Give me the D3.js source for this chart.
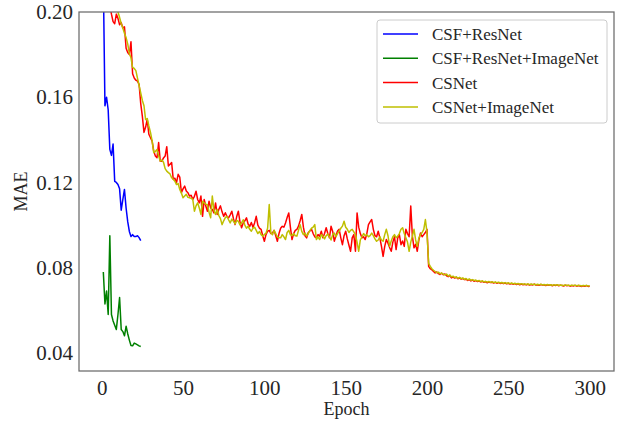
<!DOCTYPE html>
<html><head><meta charset="utf-8">
<script src="https://cdn.jsdelivr.net/npm/d3@7"></script>
<style>body{margin:0;background:#fff}svg{display:block}text{font-family:"Liberation Serif","Times New Roman",serif;fill:#262626}</style>
</head><body><svg id="c" width="631" height="422"></svg>
<script>
const seriesNames = ["CSF+ResNet","CSF+ResNet+ImageNet","CSNet","CSNet+ImageNet"];
const seriesColors = ["#0000ff","#008000","#ff0000","#bfbf00"];
const xTicks = [0,50,100,150,200,250,300];
const yTicks = [0.04,0.08,0.12,0.16,0.20];
const csfResNet = [0.215,0.156,0.160,0.154,0.1355,0.1327,0.138,0.1205,0.120,0.119,0.117,0.107,0.112,0.1167,0.108,0.1016,0.097,0.0946,0.0955,0.0946,0.0946,0.095,0.0941,0.0927];
const csfResNetImageNet = [0.078,0.063,0.069,0.058,0.095,0.058,0.055,0.053,0.051,0.058,0.066,0.051,0.050,0.048,0.0525,0.049,0.046,0.0435,0.0433,0.0446,0.0442,0.0438,0.0433,0.0430];
const csNet = [
0.262,0.245,0.228,0.214,0.203,0.199,0.1955,0.1945,0.199,0.197,
0.194,0.195,0.1925,0.193,0.183,0.181,0.180,0.186,0.171,0.169,
0.168,0.1675,0.166,0.157,0.151,0.1435,0.146,0.1496,0.1426,0.141,
0.1394,0.1347,0.1324,0.1316,0.1387,0.1300,0.1300,0.1315,0.1324,0.1368,
0.1277,0.1285,0.1293,0.1214,0.1220,0.1199,0.1238,0.1225,0.1152,0.1170,
0.1183,0.1160,0.1152,0.1136,0.1140,0.1120,0.1135,0.1159,0.1120,0.1104,
0.1136,0.1041,0.1120,0.1089,0.1065,0.1112,0.1080,0.1073,0.1057,0.1104,
0.1050,0.1073,0.1090,0.1062,0.1041,0.1058,0.1040,0.1034,0.1048,0.1065,
0.1030,0.1002,0.1040,0.1065,0.1015,0.0987,0.1010,0.1020,0.1034,0.1005,
0.0994,0.1012,0.0990,0.1010,0.1041,0.1000,0.0985,0.0980,0.0950,0.0924,
0.0955,0.0971,0.0975,0.0960,0.0963,0.0975,0.0950,0.0924,0.0960,0.0985,
0.0994,0.0990,0.1010,0.1035,0.1057,0.0990,0.0932,0.0960,0.0975,0.0980,
0.0995,0.1020,0.1050,0.0990,0.0950,0.0940,0.0965,0.0972,0.0980,0.0960,
0.0945,0.0940,0.0955,0.0948,0.0971,0.0940,0.0960,0.0987,0.0960,0.0940,
0.0994,0.0970,0.0924,0.0950,0.0972,0.0980,0.0940,0.0908,0.0950,0.0971,
0.0935,0.0905,0.0877,0.0940,0.0955,0.0877,0.1057,0.0990,0.0960,0.0940,
0.0945,0.0932,0.0960,0.1002,0.1015,0.1026,0.0980,0.0950,0.0945,0.0971,
0.0940,0.0900,0.0853,0.0900,0.0932,0.0915,0.0895,0.0877,0.0920,0.0945,
0.0885,0.0940,0.0955,0.0908,0.0925,0.0900,0.0980,0.0960,0.0945,0.1089,
0.0948,0.0893,0.0910,0.0877,0.0930,0.0963,0.0945,0.0955,0.0965,0.0980,
0.0806,0.0795,0.0790,0.0782,0.0775,0.0780,0.0772,0.0768,0.0774,0.0767,
0.0770,0.0762,0.0758,0.0764,0.0752,0.0757,0.0751,0.0755,0.0748,0.0752,
0.0746,0.0749,0.0744,0.0746,0.0740,0.0744,0.0738,0.0742,0.0736,0.0739,
0.0735,0.0737,0.0733,0.0736,0.0731,0.0734,0.0729,0.0733,0.0730,0.0732,
0.0728,0.0731,0.0727,0.0730,0.0726,0.0729,0.0725,0.0728,0.0724,0.0727,
0.0723,0.0726,0.0722,0.0725,0.0721,0.0724,0.0720,0.0723,0.0720,0.0722,
0.0719,0.0722,0.0718,0.0721,0.0719,0.0723,0.0718,0.0720,0.0717,0.0721,
0.0718,0.0720,0.0716,0.0719,0.0717,0.0720,0.0715,0.0718,0.0716,0.0719,
0.0715,0.0718,0.0716,0.0714,0.0718,0.0715,0.0717,0.0713,0.0716,0.0714,
0.0717,0.0713,0.0716,0.0714,0.0712,0.0715,0.0713,0.0716,0.0712,0.0713];
const csNetImageNet = [
0.255,0.240,0.228,0.220,0.214,0.209,0.206,0.204,0.202,0.200,
0.1975,0.1945,0.1925,0.190,0.188,0.185,0.1805,0.1785,0.174,0.1735,
0.1725,0.169,0.1655,0.162,0.1585,0.156,0.1495,0.150,0.1465,0.1435,
0.1395,0.134,0.1345,0.1355,0.1325,0.130,0.1305,0.1295,0.1265,0.1253,
0.1246,0.1240,0.1222,0.1215,0.1206,0.1190,0.1195,0.1167,0.1150,0.1128,
0.1136,0.1144,0.1130,0.1128,0.1125,0.1120,0.1065,0.1090,0.1104,0.1080,
0.1050,0.1112,0.1104,0.1098,0.1096,0.1060,0.1034,0.1136,0.1070,0.1050,
0.1073,0.1045,0.1030,0.1002,0.1020,0.1035,0.1041,0.1025,0.1010,0.1028,
0.1018,0.1005,0.1022,0.1018,0.1000,0.1010,0.1025,0.1000,0.0985,0.0995,
0.0980,0.0971,0.0985,0.0990,0.0975,0.0960,0.0970,0.0955,0.0948,0.0955,
0.0962,0.0985,0.1096,0.0963,0.0955,0.0975,0.0960,0.0945,0.0940,0.0940,
0.0955,0.0945,0.0932,0.0965,0.0975,0.0955,0.0950,0.0960,0.0950,0.0948,
0.0975,0.1002,0.0970,0.0955,0.0963,0.0948,0.0960,0.0975,0.0985,0.0990,
0.1002,0.0932,0.0945,0.0932,0.0955,0.0948,0.0935,0.0950,0.0958,0.0945,
0.0930,0.0955,0.0962,0.0945,0.0960,0.0972,0.0985,0.0995,0.1018,0.0990,
0.0980,0.0965,0.0975,0.0980,0.0968,0.0955,0.0920,0.0877,0.0930,0.0945,
0.0960,0.0950,0.0955,0.0945,0.0950,0.0962,0.0950,0.0935,0.0924,0.0930,
0.0945,0.0930,0.0924,0.0955,0.0980,0.0950,0.0900,0.0925,0.0945,0.0955,
0.0940,0.0948,0.0960,0.0980,0.0987,0.0960,0.0940,0.0920,0.0877,0.0920,
0.0948,0.0980,0.0930,0.0900,0.0940,0.0955,0.0965,0.0980,0.1026,0.0963,
0.0820,0.0806,0.0795,0.0788,0.0782,0.0776,0.0779,0.0771,0.0775,0.0769,
0.0766,0.0770,0.0761,0.0765,0.0757,0.0760,0.0754,0.0757,0.0750,0.0755,
0.0748,0.0752,0.0745,0.0749,0.0743,0.0747,0.0741,0.0744,0.0739,0.0742,
0.0737,0.0740,0.0735,0.0738,0.0733,0.0736,0.0732,0.0735,0.0731,0.0734,
0.0730,0.0733,0.0729,0.0732,0.0728,0.0731,0.0727,0.0730,0.0726,0.0729,
0.0725,0.0728,0.0724,0.0727,0.0723,0.0726,0.0722,0.0725,0.0722,0.0724,
0.0721,0.0724,0.0720,0.0723,0.0721,0.0722,0.0720,0.0722,0.0719,0.0722,
0.0719,0.0721,0.0718,0.0721,0.0719,0.0720,0.0717,0.0720,0.0718,0.0720,
0.0717,0.0719,0.0717,0.0716,0.0719,0.0717,0.0718,0.0715,0.0718,0.0716,
0.0718,0.0715,0.0717,0.0716,0.0714,0.0717,0.0715,0.0717,0.0714,0.0715];

const allSeries = [csfResNet, csfResNetImageNet, csNet, csNetImageNet];
const svg = d3.select("#c");
const L = 79, R = 614, T = 12, B = 371;
const x = d3.scaleLinear().domain([-13.95, 314.95]).range([L, R]);
const y = d3.scaleLinear().domain([0.0315, 0.2]).range([B, T]);

svg.append("defs").append("clipPath").attr("id","clip")
  .append("rect").attr("x",L).attr("y",T).attr("width",R-L).attr("height",B-T);

const line = d3.line().x((d,i)=>x(i+1)).y(d=>y(d));
const g = svg.append("g").attr("clip-path","url(#clip)");
allSeries.forEach((s,k)=>{
  g.append("path").datum(s).attr("d",line).attr("fill","none")
   .attr("stroke",seriesColors[k]).attr("stroke-width",1.5).attr("stroke-linejoin","round");
});

svg.append("rect").attr("x",L).attr("y",T).attr("width",R-L).attr("height",B-T)
  .attr("fill","none").attr("stroke","#6b6b6b").attr("stroke-width",1.25);

const xa = svg.append("g").attr("transform",`translate(0,${B})`)
  .call(d3.axisBottom(x).tickValues(xTicks).tickSize(0).tickPadding(9).tickFormat(d3.format("d")));
xa.select(".domain").remove();
xa.selectAll("text").attr("font-size",21).attr("font-family","Liberation Serif").attr("fill","#262626");

const ya = svg.append("g").attr("transform",`translate(${L},0)`)
  .call(d3.axisLeft(y).tickValues(yTicks).tickSize(0).tickPadding(6).tickFormat(d3.format(".2f")));
ya.select(".domain").remove();
ya.selectAll("text").attr("font-size",21).attr("font-family","Liberation Serif").attr("fill","#262626");

svg.append("text").attr("x",(L+R)/2).attr("y",415).attr("text-anchor","middle")
  .attr("font-size",18).text("Epoch");
svg.append("text").attr("transform",`translate(27,${(T+B)/2}) rotate(-90)`).attr("text-anchor","middle")
  .attr("font-size",18).text("MAE");

const lg = svg.append("g");
lg.append("rect").attr("x",377).attr("y",20).attr("width",230).attr("height",103).attr("rx",3)
  .attr("fill","#fff").attr("fill-opacity",0.8).attr("stroke","#cccccc").attr("stroke-width",1);
seriesNames.forEach((n,k)=>{
  const cy = 34 + k*24.3;
  lg.append("line").attr("x1",383).attr("x2",418).attr("y1",cy).attr("y2",cy)
    .attr("stroke",seriesColors[k]).attr("stroke-width",1.5);
  lg.append("text").attr("x",432).attr("y",cy+6).attr("font-size",17).text(n);
});
</script></body></html>
